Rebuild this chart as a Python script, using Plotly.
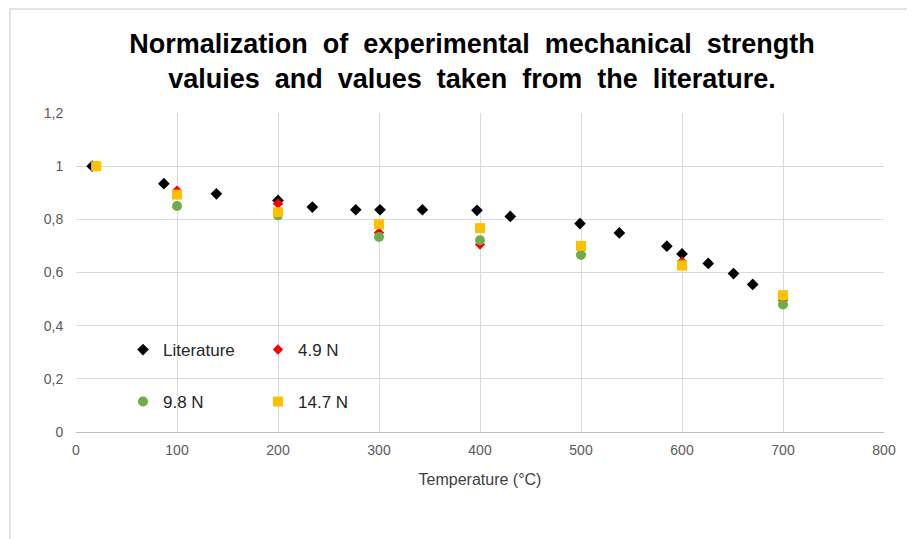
import plotly.graph_objects as go

# Literature data
lit_t = [16, 87, 139, 200, 234, 277, 301, 343, 397, 430, 499, 538, 585, 600, 626, 651, 670]
lit_v = [1.0, 0.934, 0.896, 0.871, 0.846, 0.836, 0.836, 0.836, 0.834, 0.811, 0.784, 0.749, 0.699, 0.670, 0.634, 0.596, 0.555]

# Experimental data
exp_t = [20, 100, 200, 300, 400, 500, 600, 700]
v_49 = [1.0, 0.908, 0.859, 0.750, 0.705, 0.670, 0.641, 0.496]
v_98 = [1.0, 0.850, 0.815, 0.734, 0.721, 0.666, 0.630, 0.480]
v_147 = [1.0, 0.893, 0.827, 0.782, 0.767, 0.700, 0.626, 0.515]

x_ticks = [0, 100, 200, 300, 400, 500, 600, 700, 800]
y_ticks = [0, 0.2, 0.4, 0.6, 0.8, 1.0, 1.2]

FONT = "Liberation Sans, Arial, sans-serif"

# page body has an 8px margin; compensate so the plot area sits at 76..884 x 113..432
W, H = 907, 531
L, R, T, B = 68, 31, 105, 107

fig = go.Figure()
fig.add_trace(go.Scatter(x=lit_t, y=lit_v, mode="markers", name="Literature",
                         marker=dict(symbol="diamond", size=9, color="black"), legend="legend"))
fig.add_trace(go.Scatter(x=exp_t, y=v_49, mode="markers", name="4.9 N",
                         marker=dict(symbol="diamond", size=8, color="#FF0000"), legend="legend"))
fig.add_trace(go.Scatter(x=exp_t, y=v_98, mode="markers", name="9.8 N",
                         marker=dict(symbol="circle", size=10, color="#70AD47"), legend="legend2"))
fig.add_trace(go.Scatter(x=exp_t, y=v_147, mode="markers", name="14.7 N",
                         marker=dict(symbol="square", size=10, color="#FFC000"), legend="legend2"))

pw = W - L - R
ph = H - T - B

legend_common = dict(orientation="h", xanchor="left", yanchor="middle", x=(123 - 8 - L) / pw,
                     font=dict(family=FONT, size=17, color="#262626"),
                     bgcolor="rgba(0,0,0,0)", entrywidth=90, itemwidth=30, traceorder="normal")

title_text = ("<b>Normalization&nbsp; of&nbsp; experimental&nbsp; mechanical&nbsp; strength<br>"
              "valuies&nbsp; and&nbsp; values&nbsp; taken&nbsp; from&nbsp; the&nbsp; literature.</b>")

fig.update_layout(
    width=W, height=H,
    margin=dict(l=L, r=R, t=T, b=B),
    paper_bgcolor="white", plot_bgcolor="white",
    separators=", ",
    font=dict(family=FONT, color="#595959"),
    title=dict(text=title_text,
               x=(472 - 8) / W, xanchor="center", y=1 - 45 / H, yanchor="middle",
               font=dict(family=FONT, size=27, color="black")),
    xaxis=dict(range=[0, 800], tickvals=x_ticks, showgrid=True, gridcolor="#D9D9D9", gridwidth=1,
               zeroline=False, showline=True, linecolor="#BFBFBF",
               ticks="outside", ticklen=5, tickcolor="rgba(0,0,0,0)",
               tickfont=dict(size=14, color="#595959"),
               title=dict(text="Temperature (°C)", font=dict(size=16, color="#404040"), standoff=17)),
    yaxis=dict(range=[0, 1.2], tickvals=y_ticks, showgrid=True, gridcolor="#D9D9D9", gridwidth=1,
               zeroline=False, showline=False,
               ticks="outside", ticklen=9, tickcolor="rgba(0,0,0,0)",
               tickfont=dict(size=14, color="#595959")),
    legend=dict(y=(432 - 350) / ph, **legend_common),
    legend2=dict(y=(432 - 402) / ph, **legend_common),
    showlegend=True,
)

# outer chart frame
fig.add_shape(type="rect", xref="paper", yref="paper",
              x0=(10 - 8 - L) / pw, x1=1.2, y0=-0.6, y1=(432 - 9) / ph,
              line=dict(color="#D9D9D9", width=1.5), fillcolor="rgba(0,0,0,0)", layer="below")

fig.write_html("out.html")
